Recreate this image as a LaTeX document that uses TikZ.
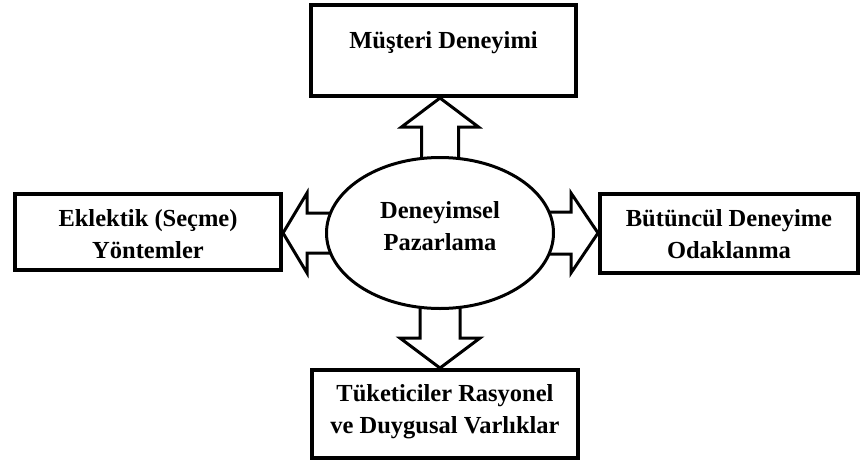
\documentclass[tikz,border=0pt]{standalone}
\usepackage{fontspec}
\setmainfont{Liberation Serif}
\usetikzlibrary{shapes.geometric,calc}
\begin{document}
\begin{tikzpicture}[x=1pt,y=-1pt,
  txt/.style={font=\fontsize{24.5}{32}\selectfont\bfseries, align=center, inner sep=0pt},
  box/.style={draw, line width=4pt, fill=white, inner sep=0pt},
  hub/.style={draw, ellipse, line width=3pt, fill=white, inner sep=0pt,
              minimum width=227pt, minimum height=151pt},
  barrow/.style={draw, line width=3pt, fill=white, line join=miter}]
\useasboundingbox (0,0) rectangle (862,466);

% outer boxes and the central ellipse (placed first, drawn on top of the arrows below)
\path (443.5,50.5) coordinate (topc);
\path (148,232) coordinate (leftc);
\path (729,233.5) coordinate (rightc);
\path (445,414) coordinate (botc);
\path (440,233) coordinate (hubc);

\node[box, minimum width=265pt, minimum height=91pt, draw=none, fill=none] (top) at (topc) {};
\node[box, minimum width=266pt, minimum height=76pt, draw=none, fill=none] (left) at (leftc) {};
\node[box, minimum width=258pt, minimum height=79pt, draw=none, fill=none] (right) at (rightc) {};
\node[box, minimum width=266pt, minimum height=88pt, draw=none, fill=none] (bot) at (botc) {};
\node[hub, draw=none, fill=none] (ell) at (hubc) {};

% block arrows from the ellipse to each box
\coordinate (tipU) at (ell.center |- top.south);
\coordinate (tipD) at (ell.center |- bot.north);
\coordinate (tipL) at (left.east |- ell.center);
\coordinate (tipR) at (right.west |- ell.center);

\draw[barrow] (tipU) -- ++(38.5,29) -- ++(-20,0) -- ++(0,48) -- ++(-37,0)
  -- ++(0,-48) -- ++(-20,0) -- cycle;
\draw[barrow] (tipD) -- ++(40,-30) -- ++(-20,0) -- ++(0,-50) -- ++(-40,0)
  -- ++(0,50) -- ++(-20,0) -- cycle;
\draw[barrow] (tipL) -- ++(24,-40) -- ++(0,20) -- ++(40,0) -- ++(0,40)
  -- ++(-40,0) -- ++(0,20) -- cycle;
\draw[barrow] (tipR) -- ++(-27,-40) -- ++(0,19) -- ++(-38,0) -- ++(0,42)
  -- ++(38,0) -- ++(0,19) -- cycle;

% visible shapes over the arrow ends
\node[box, minimum width=265pt, minimum height=91pt] (topB) at (top.center) {};
\node[box, minimum width=266pt, minimum height=76pt] (leftB) at (left.center) {};
\node[box, minimum width=258pt, minimum height=79pt] (rightB) at (right.center) {};
\node[box, minimum width=266pt, minimum height=88pt] (botB) at (bot.center) {};
\node[hub] (ellB) at (ell.center) {};

% labels
\node[txt] (tTop) at ($(topB.center)+(0,-8)$) {Müşteri Deneyimi};
\node[txt] (tLeft) at ($(leftB.center)+(0,2)$) {Eklektik (Seçme)\\Yöntemler};
\node[txt] (tRight) at ($(rightB.center)+(0,0.5)$) {Bütüncül Deneyime\\Odaklanma};
\node[txt] (tBot) at ($(botB.center)+(0,-2)$) {Tüketiciler Rasyonel\\ve Duygusal Varlıklar};
\node[txt] (tHub) at ($(ellB.center)+(0,-7)$) {Deneyimsel\\Pazarlama};
\end{tikzpicture}
\end{document}
